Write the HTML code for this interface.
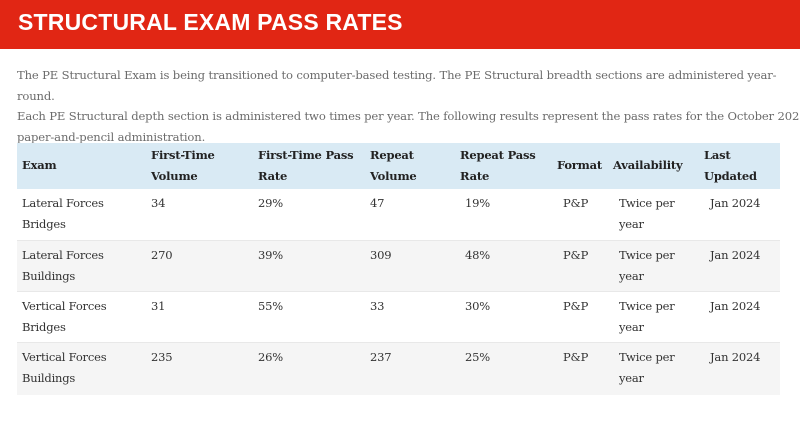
<!DOCTYPE html>
<html><head><meta charset="utf-8"><style>
body{margin:0;width:800px;height:427px;background:#fff;position:relative;overflow:hidden;font-family:"DejaVu Serif","Liberation Serif",serif;}
.banner{position:absolute;left:0;top:0;width:800px;height:49px;background:#e12614;}
.title{position:absolute;left:18px;top:9px;font:bold 23px "Liberation Sans",sans-serif;color:#fff;letter-spacing:0.2px;}
.intro{position:absolute;left:17px;top:65px;width:790px;font-size:11.6px;line-height:20.5px;color:#6b6b6b;letter-spacing:-0.15px;}
.row{position:absolute;left:17px;width:763px;}
.hdr{top:143px;height:46px;background:#d9eaf4;}
.r{height:51px;border-top:1px solid #e8e8e8;box-sizing:border-box;}
.g{background:#f5f5f5;}
.c{position:absolute;font-size:11.5px;line-height:20.5px;color:#333;letter-spacing:-0.2px;}
.h{font-weight:bold;color:#222;}
</style></head><body>
<div class="banner"><div class="title">STRUCTURAL EXAM PASS RATES</div></div>
<div class="intro">The PE Structural Exam is being transitioned to computer-based testing. The PE Structural breadth sections are administered year-round.<br>Each PE Structural depth section is administered two times per year. The following results represent the pass rates for the October 2023<br>paper-and-pencil administration.</div>

<div class="row hdr">
<div class="c h" style="left:5px;top:12px">Exam</div>
<div class="c h" style="left:134px;top:2px">First-Time<br>Volume</div>
<div class="c h" style="left:241px;top:2px">First-Time Pass<br>Rate</div>
<div class="c h" style="left:353px;top:2px">Repeat<br>Volume</div>
<div class="c h" style="left:443px;top:2px">Repeat Pass<br>Rate</div>
<div class="c h" style="left:540px;top:12px">Format</div>
<div class="c h" style="left:596px;top:12px">Availability</div>
<div class="c h" style="left:687px;top:2px">Last<br>Updated</div>
</div>

<div class="row r" style="top:189px;border-top:none">
<div class="c" style="left:5px;top:4px">Lateral Forces<br>Bridges</div>
<div class="c" style="left:134px;top:4px">34</div><div class="c" style="left:241px;top:4px">29%</div>
<div class="c" style="left:353px;top:4px">47</div><div class="c" style="left:448px;top:4px">19%</div>
<div class="c" style="left:546px;top:4px">P&amp;P</div><div class="c" style="left:602px;top:4px">Twice per<br>year</div>
<div class="c" style="left:693px;top:4px">Jan 2024</div></div>

<div class="row r g" style="top:240px">
<div class="c" style="left:5px;top:4px">Lateral Forces<br>Buildings</div>
<div class="c" style="left:134px;top:4px">270</div><div class="c" style="left:241px;top:4px">39%</div>
<div class="c" style="left:353px;top:4px">309</div><div class="c" style="left:448px;top:4px">48%</div>
<div class="c" style="left:546px;top:4px">P&amp;P</div><div class="c" style="left:602px;top:4px">Twice per<br>year</div>
<div class="c" style="left:693px;top:4px">Jan 2024</div></div>

<div class="row r" style="top:291px">
<div class="c" style="left:5px;top:4px">Vertical Forces<br>Bridges</div>
<div class="c" style="left:134px;top:4px">31</div><div class="c" style="left:241px;top:4px">55%</div>
<div class="c" style="left:353px;top:4px">33</div><div class="c" style="left:448px;top:4px">30%</div>
<div class="c" style="left:546px;top:4px">P&amp;P</div><div class="c" style="left:602px;top:4px">Twice per<br>year</div>
<div class="c" style="left:693px;top:4px">Jan 2024</div></div>

<div class="row r g" style="top:342px;height:53px">
<div class="c" style="left:5px;top:4px">Vertical Forces<br>Buildings</div>
<div class="c" style="left:134px;top:4px">235</div><div class="c" style="left:241px;top:4px">26%</div>
<div class="c" style="left:353px;top:4px">237</div><div class="c" style="left:448px;top:4px">25%</div>
<div class="c" style="left:546px;top:4px">P&amp;P</div><div class="c" style="left:602px;top:4px">Twice per<br>year</div>
<div class="c" style="left:693px;top:4px">Jan 2024</div></div>
</body></html>
